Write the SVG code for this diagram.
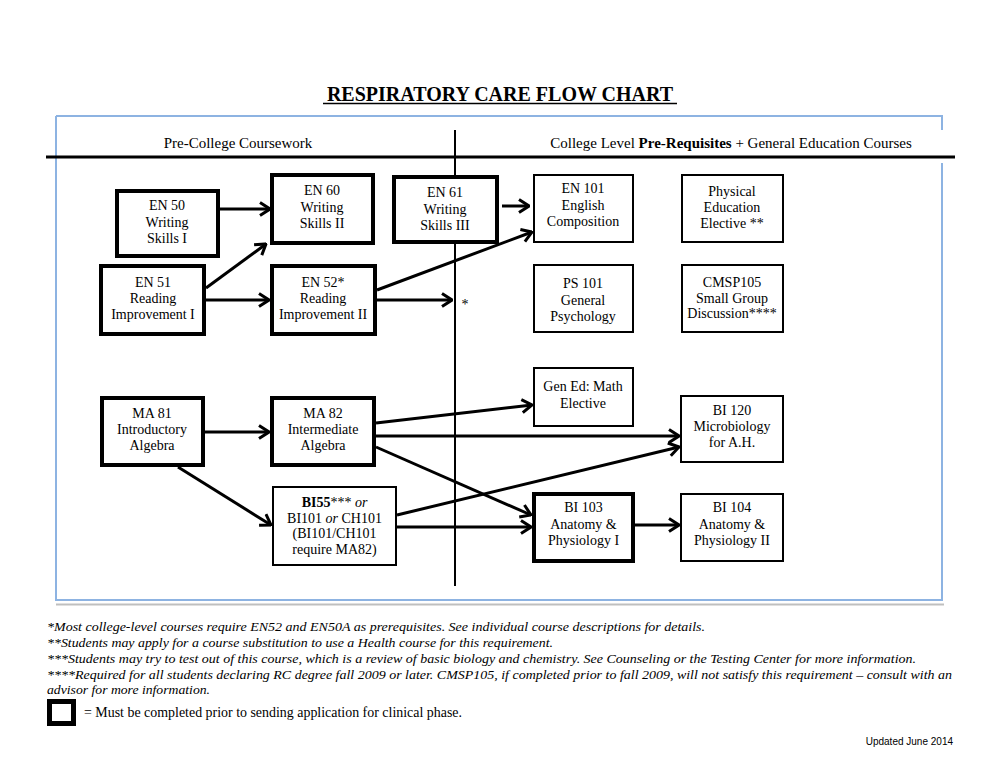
<svg xmlns="http://www.w3.org/2000/svg" width="1000" height="773" viewBox="0 0 1000 773">
<defs>
<marker id="arr" viewBox="0 0 12 16" refX="11" refY="8" markerWidth="12" markerHeight="16" orient="auto" markerUnits="userSpaceOnUse">
<path d="M1,1.5 L11,8 L1,14.5" fill="none" stroke="#000" stroke-width="3" stroke-linejoin="miter"/>
</marker>
</defs>
<style>
text{font-family:"Liberation Serif","Times New Roman",serif;fill:#000}
.n{font-size:14px;text-anchor:middle}
.thick{fill:#fff;stroke:#000;stroke-width:4}
.thin{fill:#fff;stroke:#000;stroke-width:2}
.c{stroke:#000;stroke-width:3;fill:none;marker-end:url(#arr)}
.fn{font-size:13px;font-style:italic}
</style>
<rect width="1000" height="773" fill="#fff"/>
<g id="frame">
<path d="M56,116 H942 V130 M942,163 V600 H56 V116" fill="none" stroke="#8db3e2" stroke-width="2"/>
<line x1="56" y1="604.5" x2="944" y2="604.5" stroke="#bfbfbf" stroke-width="2"/>
<line x1="46" y1="157" x2="955" y2="157" stroke="#000" stroke-width="3"/>
<line x1="455" y1="130" x2="455" y2="586" stroke="#000" stroke-width="2"/>
</g>
<g id="title" font-family="Liberation Serif, Times New Roman, serif">
<text x="500" y="101" style="font-size:20px;font-weight:bold;text-anchor:middle">RESPIRATORY CARE FLOW CHART</text>
<line x1="323" y1="103.5" x2="677" y2="103.5" stroke="#000" stroke-width="1.5"/>
<text x="238" y="148" style="font-size:15px;text-anchor:middle">Pre-College Coursework</text>
<text x="731" y="148" style="font-size:15px;text-anchor:middle">College Level <tspan font-weight="bold">Pre-Requisites</tspan> + General Education Courses</text>
</g>
<g id="connectors">
<line class="c" x1="220" y1="209" x2="270" y2="209"/>
<line class="c" x1="206" y1="288" x2="266" y2="244"/>
<line class="c" x1="206" y1="300" x2="269" y2="300"/>
<line class="c" x1="377" y1="300" x2="452" y2="300"/>
<line class="c" x1="377" y1="290" x2="532" y2="232"/>
<line class="c" x1="502" y1="206" x2="529" y2="206"/>
<line class="c" x1="205" y1="432" x2="269" y2="432"/>
<line class="c" x1="178" y1="467" x2="271" y2="525"/>
<line class="c" x1="376" y1="423" x2="532" y2="405"/>
<line class="c" x1="376" y1="436" x2="679" y2="436"/>
<line class="c" x1="376" y1="447" x2="531" y2="515"/>
<line class="c" x1="397" y1="515" x2="679" y2="447"/>
<line class="c" x1="397" y1="527" x2="531" y2="527"/>
<line class="c" x1="635" y1="525" x2="679" y2="525"/>
</g>
<text x="465" y="309" style="font-size:14px;text-anchor:middle">*</text>
<g id="en50"><rect class="thick" x="117" y="191" width="101" height="65"/>
<text class="n" x="167" y="210">EN 50</text><text class="n" x="167" y="226.5">Writing</text><text class="n" x="167" y="243">Skills I</text></g>
<g id="en60"><rect class="thick" x="272" y="175" width="101" height="68"/>
<text class="n" x="322" y="195">EN 60</text><text class="n" x="322" y="211.5">Writing</text><text class="n" x="322" y="228">Skills II</text></g>
<g id="en61"><rect class="thick" x="394" y="177" width="103" height="65"/>
<text class="n" x="445" y="197">EN 61</text><text class="n" x="445" y="213.5">Writing</text><text class="n" x="445" y="230">Skills III</text></g>
<g id="en51"><rect class="thick" x="101" y="266" width="103" height="68"/>
<text class="n" x="153" y="287">EN 51</text><text class="n" x="153" y="303">Reading</text><text class="n" x="153" y="319">Improvement I</text></g>
<g id="en52"><rect class="thick" x="272" y="266" width="103" height="68"/>
<text class="n" x="323" y="287">EN 52*</text><text class="n" x="323" y="303">Reading</text><text class="n" x="323" y="319">Improvement II</text></g>
<g id="en101"><rect class="thin" x="534" y="175" width="99" height="67"/>
<text class="n" x="583" y="193">EN 101</text><text class="n" x="583" y="209.5">English</text><text class="n" x="583" y="226">Composition</text></g>
<g id="pe"><rect class="thin" x="682" y="175" width="101" height="67"/>
<text class="n" x="732" y="196">Physical</text><text class="n" x="732" y="212">Education</text><text class="n" x="732" y="228">Elective **</text></g>
<g id="ps101"><rect class="thin" x="534" y="265" width="99" height="67"/>
<text class="n" x="583" y="288">PS 101</text><text class="n" x="583" y="304.5">General</text><text class="n" x="583" y="321">Psychology</text></g>
<g id="cmsp105"><rect class="thin" x="682" y="265" width="101" height="67"/>
<text class="n" x="732" y="287">CMSP105</text><text class="n" x="732" y="302.5">Small Group</text><text class="n" x="732" y="318">Discussion****</text></g>
<g id="genedmath"><rect class="thin" x="534" y="368" width="99" height="58"/>
<text class="n" x="583" y="391">Gen Ed: Math</text><text class="n" x="583" y="407.5">Elective</text></g>
<g id="ma81"><rect class="thick" x="102" y="398" width="101" height="67"/>
<text class="n" x="152" y="418">MA 81</text><text class="n" x="152" y="434">Introductory</text><text class="n" x="152" y="450">Algebra</text></g>
<g id="ma82"><rect class="thick" x="272" y="398" width="102" height="67"/>
<text class="n" x="323" y="418">MA 82</text><text class="n" x="323" y="434">Intermediate</text><text class="n" x="323" y="450">Algebra</text></g>
<g id="bi120"><rect class="thin" x="681" y="396" width="102" height="66"/>
<text class="n" x="732" y="415">BI 120</text><text class="n" x="732" y="431">Microbiology</text><text class="n" x="732" y="447">for A.H.</text></g>
<g id="bi55"><rect class="thin" x="273" y="487" width="123" height="78"/>
<text class="n" x="334.5" y="507"><tspan font-weight="bold">BI55</tspan>*** <tspan font-style="italic">or</tspan></text>
<text class="n" x="334.5" y="522.5">BI101 <tspan font-style="italic">or</tspan> CH101</text>
<text class="n" x="334.5" y="538">(BI101/CH101</text>
<text class="n" x="334.5" y="553.5">require MA82)</text></g>
<g id="bi103"><rect class="thick" x="534" y="494" width="99" height="67"/>
<text class="n" x="583.5" y="512">BI 103</text><text class="n" x="583.5" y="528.5">Anatomy &amp;</text><text class="n" x="583.5" y="545">Physiology I</text></g>
<g id="bi104"><rect class="thin" x="681" y="494" width="102" height="67"/>
<text class="n" x="732" y="512">BI 104</text><text class="n" x="732" y="528.5">Anatomy &amp;</text><text class="n" x="732" y="545">Physiology II</text></g>
<g id="footnotes">
<text class="fn" x="47" y="631" textLength="658" lengthAdjust="spacingAndGlyphs">*Most college-level courses require EN52 and EN50A as prerequisites.  See individual course descriptions for details.</text>
<text class="fn" x="47" y="647" textLength="506" lengthAdjust="spacingAndGlyphs">**Students may apply for a course substitution to use a Health course for this requirement.</text>
<text class="fn" x="47" y="663" textLength="869" lengthAdjust="spacingAndGlyphs">***Students may try to test out of this course, which is a review of basic biology and chemistry.  See Counseling or the Testing Center for more information.</text>
<text class="fn" x="47" y="679" textLength="905" lengthAdjust="spacingAndGlyphs">****Required for all students declaring RC degree fall 2009 or later.  CMSP105, if completed prior to fall 2009, will not satisfy this requirement – consult with an</text>
<text class="fn" x="47" y="694" textLength="163" lengthAdjust="spacingAndGlyphs">advisor for more information.</text>
</g>
<g id="legend">
<rect x="49.5" y="701.5" width="24" height="22" fill="#fff" stroke="#000" stroke-width="5"/>
<text x="84" y="717" style="font-size:14px" textLength="378" lengthAdjust="spacingAndGlyphs">= Must be completed prior to sending application for clinical phase.</text>
</g>
<text x="953" y="745" style="font-family:'Liberation Sans',Arial,sans-serif;font-size:10px;text-anchor:end">Updated June 2014</text>
</svg>
